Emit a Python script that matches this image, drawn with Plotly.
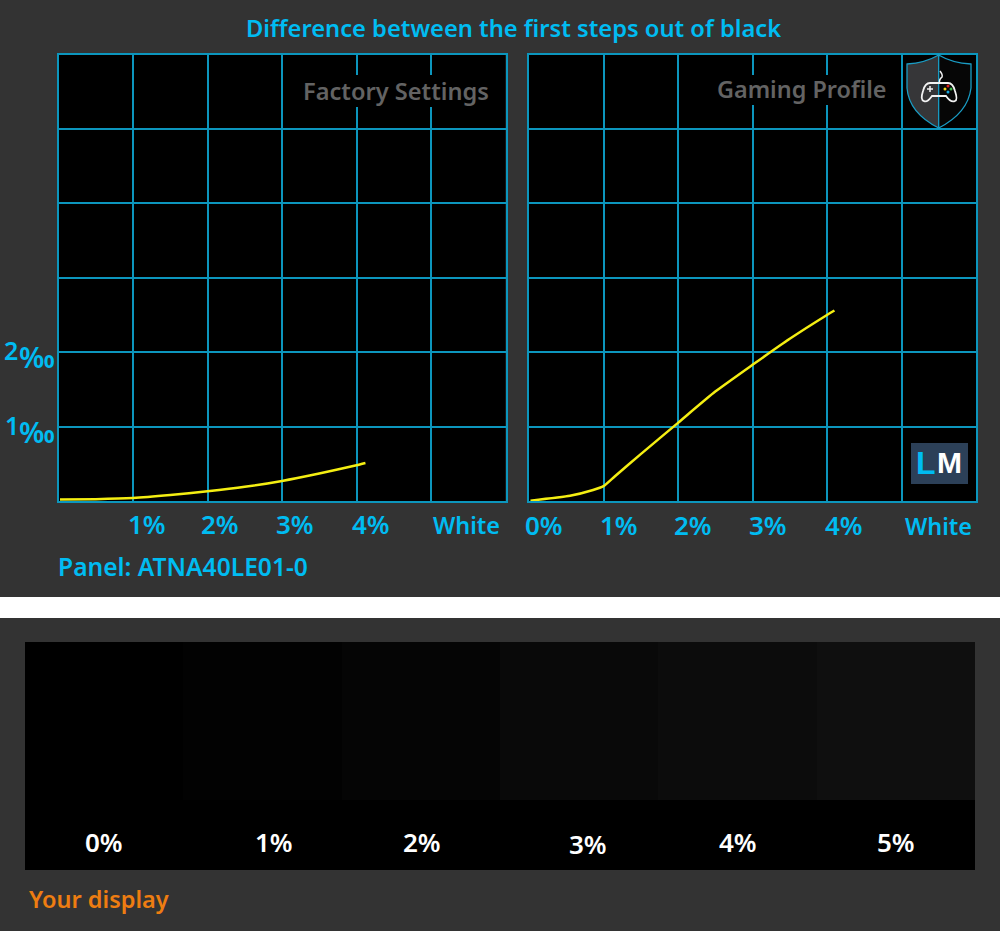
import plotly.graph_objects as go

W, H = 1000, 931

# ---- data ----
factory_x = [0.02, 0.5, 1.0, 1.5, 2.0, 2.5, 3.0, 3.5, 4.0, 4.12]
factory_y = [0.02, 0.025, 0.04, 0.08, 0.13, 0.19, 0.27, 0.37, 0.48, 0.51]
gaming_x = [0.02, 0.55, 0.86, 1.0, 1.15, 1.5, 2.0, 2.5, 3.0, 3.5, 4.0, 4.1]
gaming_y = [0.005, 0.07, 0.148, 0.20, 0.33, 0.63, 1.05, 1.47, 1.83, 2.18, 2.50, 2.56]
swatch_labels = ["0%", "1%", "2%", "3%", "4%", "5%"]
swatch_colors = ["#000000", "#020202", "#050505", "#090909", "#0c0c0c", "#0f0f0f"]
swatch_height = [1, 1, 1, 1, 1, 1]
grid_vals = [0, 1, 2, 3, 4, 5, 6]

BLUE = "#00bcf2"
GRID = "#0c96bd"
FONT = "Noto Sans"


def fx(x):
    return x / W


def fy(y):
    return 1 - y / H


def path(*cmds):
    out = []
    for c in cmds:
        if isinstance(c, str):
            out.append(c)
        else:
            out.append(f"{fx(c[0]):.5f},{fy(c[1]):.5f}")
    return " ".join(out)


fig = go.Figure()
for xa, ya, xs, ys in [("x", "y", factory_x, factory_y), ("x2", "y2", gaming_x, gaming_y)]:
    fig.add_trace(go.Scatter(x=xs, y=ys, xaxis=xa, yaxis=ya, mode="lines",
                             line=dict(color="#f4ee12", width=2.5, shape="spline", smoothing=0.5),
                             showlegend=False, hoverinfo="skip"))
fig.add_trace(go.Bar(x=swatch_labels, y=swatch_height, xaxis="x3", yaxis="y3", width=1,
                     marker=dict(color=swatch_colors, line=dict(width=0)),
                     showlegend=False, hoverinfo="skip"))

grid_axis = dict(range=[0, 6], tickvals=grid_vals, showticklabels=False, ticks="",
                 showgrid=True, gridcolor=GRID, gridwidth=1.5, zeroline=False,
                 showline=True, linecolor=GRID, linewidth=1.5, mirror=True, fixedrange=True)


def rect(x0, y0, x1, y1, color, layer="above"):
    return dict(type="rect", xref="paper", yref="paper", x0=fx(x0), x1=fx(x1), y0=fy(y1), y1=fy(y0),
                fillcolor=color, line=dict(width=0), layer=layer)


shapes = [
    rect(0, 597, 1000, 618, "#ffffff", "below"),
    rect(304, 75, 489, 107, "#000000"),
    rect(717, 75, 888, 105, "#000000"),
    rect(911, 443, 968, 484, "#2c4058"),
]
# shield badge
left_half = path("M", (938.7, 55), "Q", (925, 63), (907, 64), "L", (907, 88), "Q", (909, 113), (938.7, 128), "Z")
right_half = path("M", (938.7, 55), "Q", (952, 63), (971, 64), "L", (971, 88), "Q", (968, 113), (938.7, 128), "Z")
shapes += [
    dict(type="path", xref="paper", yref="paper", path=left_half, fillcolor="#363638",
         line=dict(color="#1a9cc4", width=1.3), layer="above"),
    dict(type="path", xref="paper", yref="paper", path=right_half, fillcolor="#060606",
         line=dict(color="#1a9cc4", width=1.3), layer="above"),
    dict(type="path", xref="paper", yref="paper",
         path=path("M", (930, 83), "L", (948, 83), "Q", (953, 83), (955, 91), "Q", (958, 100), (955, 101),
                   "Q", (951, 103), (946, 96), "L", (932, 96), "Q", (927, 103), (924, 101),
                   "Q", (920, 100), (923, 91), "Q", (925, 83), (930, 83), "Z"),
         fillcolor="rgba(0,0,0,0)", line=dict(color="#f2f2f2", width=1.8), layer="above"),
    dict(type="path", xref="paper", yref="paper",
         path=path("M", (939.5, 83), "Q", (939, 79), (942, 77), "Q", (943, 75), (940, 71)),
         fillcolor="rgba(0,0,0,0)", line=dict(color="#f2f2f2", width=1.5), layer="above"),
    dict(type="path", xref="paper", yref="paper",
         path=path("M", (927, 89), "L", (933, 89), "M", (930, 86), "L", (930, 92)),
         line=dict(color="#f2f2f2", width=1.5), layer="above"),
]
for cx, cy, col in [(948, 86, "#e0201c"), (945, 89, "#f4d21a"), (951, 89, "#3fb548"), (948, 92, "#16a5dc")]:
    shapes.append(dict(type="circle", xref="paper", yref="paper", x0=fx(cx - 1.5), x1=fx(cx + 1.5),
                       y0=fy(cy + 1.5), y1=fy(cy - 1.5), fillcolor=col, line=dict(width=0), layer="above"))

anns = []


def text(s, x, y, size, color=BLUE, weight=600, family=FONT, anchor="center"):
    anns.append(dict(text=s, x=fx(x), y=fy(y), xref="paper", yref="paper", xanchor=anchor, yanchor="middle",
                     showarrow=False, font=dict(family=family, size=size, color=color, weight=weight),
                     borderpad=0, borderwidth=0))


text("Difference between the first steps out of black", 513, 28, 23.7)
text("Factory Settings", 396, 91, 23.6, "#636363")
text("Gaming Profile", 802, 89, 23.4, "#636363")
for s, x in zip(["1%", "2%", "3%", "4%"], [147, 220, 295, 371]):
    text(s, x, 524, 26)
text("White", 466, 525, 23.4)
for s, x in zip(["0%", "1%", "2%", "3%", "4%"], [544, 619, 693, 768, 844]):
    text(s, x, 525, 26)
text("White", 938, 526, 23.4)
text("2", 11, 350, 25)
text("‰", 36.5, 356, 29)
text("1", 12, 425, 25)
text("‰", 36.5, 431, 29)
text("Panel: ATNA40LE01-0", 58, 566, 24.6, anchor="left")
for s, x, y in zip(swatch_labels, [104, 274, 422, 588, 738, 896], [842, 842, 842, 844, 842, 842]):
    text(s, x, y, 26, "#ffffff")
text("Your display", 29, 899, 23.5, "#ee7d11", anchor="left")
text("L", 925.5, 463, 32, BLUE, 700, "Liberation Sans")
text("M", 949, 463, 30, "#ffffff", 700, "Liberation Sans")

fig.update_layout(
    width=W, height=H, autosize=False, margin=dict(l=0, r=0, t=0, b=0),
    paper_bgcolor="#333333", plot_bgcolor="#000000", showlegend=False,
    shapes=shapes, annotations=anns, bargap=0,
    xaxis=dict(domain=[fx(58.5), fx(505.5)], anchor="y", **grid_axis),
    yaxis=dict(domain=[fy(501), fy(54.5)], anchor="x", **grid_axis),
    xaxis2=dict(domain=[fx(529), fx(976)], anchor="y2", **grid_axis),
    yaxis2=dict(domain=[fy(501), fy(54.5)], anchor="x2", **grid_axis),
    xaxis3=dict(domain=[fx(25), fx(975)], anchor="y3", type="category", range=[-0.5, 5.5],
                visible=False, fixedrange=True),
    yaxis3=dict(domain=[fy(870), fy(642)], anchor="x3", range=[-0.443, 1], visible=False, fixedrange=True),
)
fig.write_html("out.html", config=dict(displayModeBar=False),
               post_script="document.body.style.margin='0';document.body.style.overflow='hidden';")
